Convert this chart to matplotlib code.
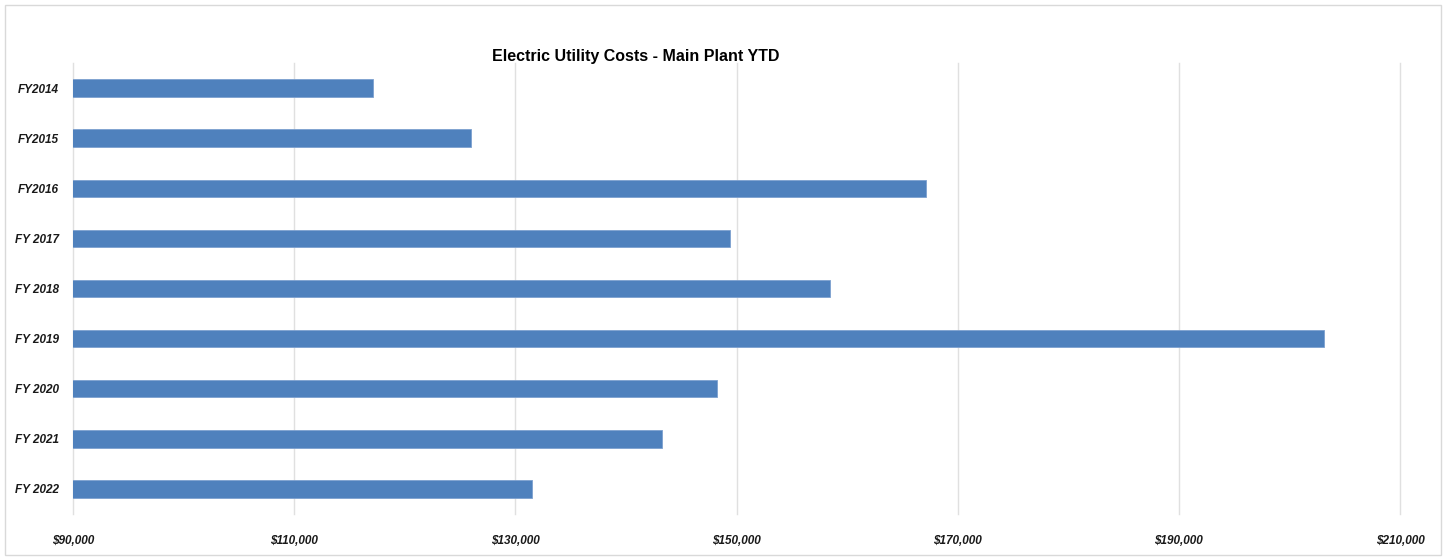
import matplotlib.pyplot as plt
from matplotlib.patches import Rectangle
from matplotlib.ticker import FuncFormatter

years = ["FY2014", "FY2015", "FY2016", "FY 2017", "FY 2018",
         "FY 2019", "FY 2020", "FY 2021", "FY 2022"]
costs = [117100, 126000, 167100, 149400, 158500,
         203100, 148200, 143300, 131500]

W, H = 1447, 558
plt.rcParams["font.family"] = ["Liberation Sans Narrow", "Liberation Sans", "DejaVu Sans"]

fig = plt.figure(figsize=(W / 100, H / 100), dpi=100)
ax = fig.add_axes([73 / W, 1 - 514 / H, (1400 - 73) / W, (514 - 63) / H])

ax.barh(range(len(years)), costs, left=0, height=0.35, color="#4F81BD",
        edgecolor="#7DA0CF", linewidth=0.6, zorder=3)
ax.set_xlim(90000, 210000)
ax.set_ylim(len(years) - 0.5, -0.5)

ax.set_xticks(range(90000, 210001, 20000))
ax.xaxis.set_major_formatter(FuncFormatter(lambda v, p: f"${v:,.0f}"))
ax.set_yticks(range(len(years)))
ax.set_yticklabels(years)
for lab in ax.get_xticklabels() + ax.get_yticklabels():
    lab.set_fontstyle("italic")
    lab.set_fontweight("bold")
    lab.set_fontsize(8.5)
    lab.set_color("#1a1a1a")
ax.tick_params(axis="x", length=0, pad=15)
ax.tick_params(axis="y", length=0, pad=10)

ax.grid(axis="x", color="#E0E0E0", linewidth=1.0, zorder=0)
for gl in ax.get_xgridlines():
    gl.set_clip_on(False)
for s in ax.spines.values():
    s.set_visible(False)

fig.text(636 / W, 1 - 57 / H, "Electric Utility Costs - Main Plant YTD",
         ha="center", va="center", fontsize=11.5, fontweight="bold", color="black")

# outer chart border
fig.patches.append(Rectangle((5 / W, 3 / H), (1441 - 5) / W, (553 - 3) / H,
                             transform=fig.transFigure, fill=False,
                             edgecolor="#D9D9D9", linewidth=1))

fig.savefig("out.png", dpi=100)
